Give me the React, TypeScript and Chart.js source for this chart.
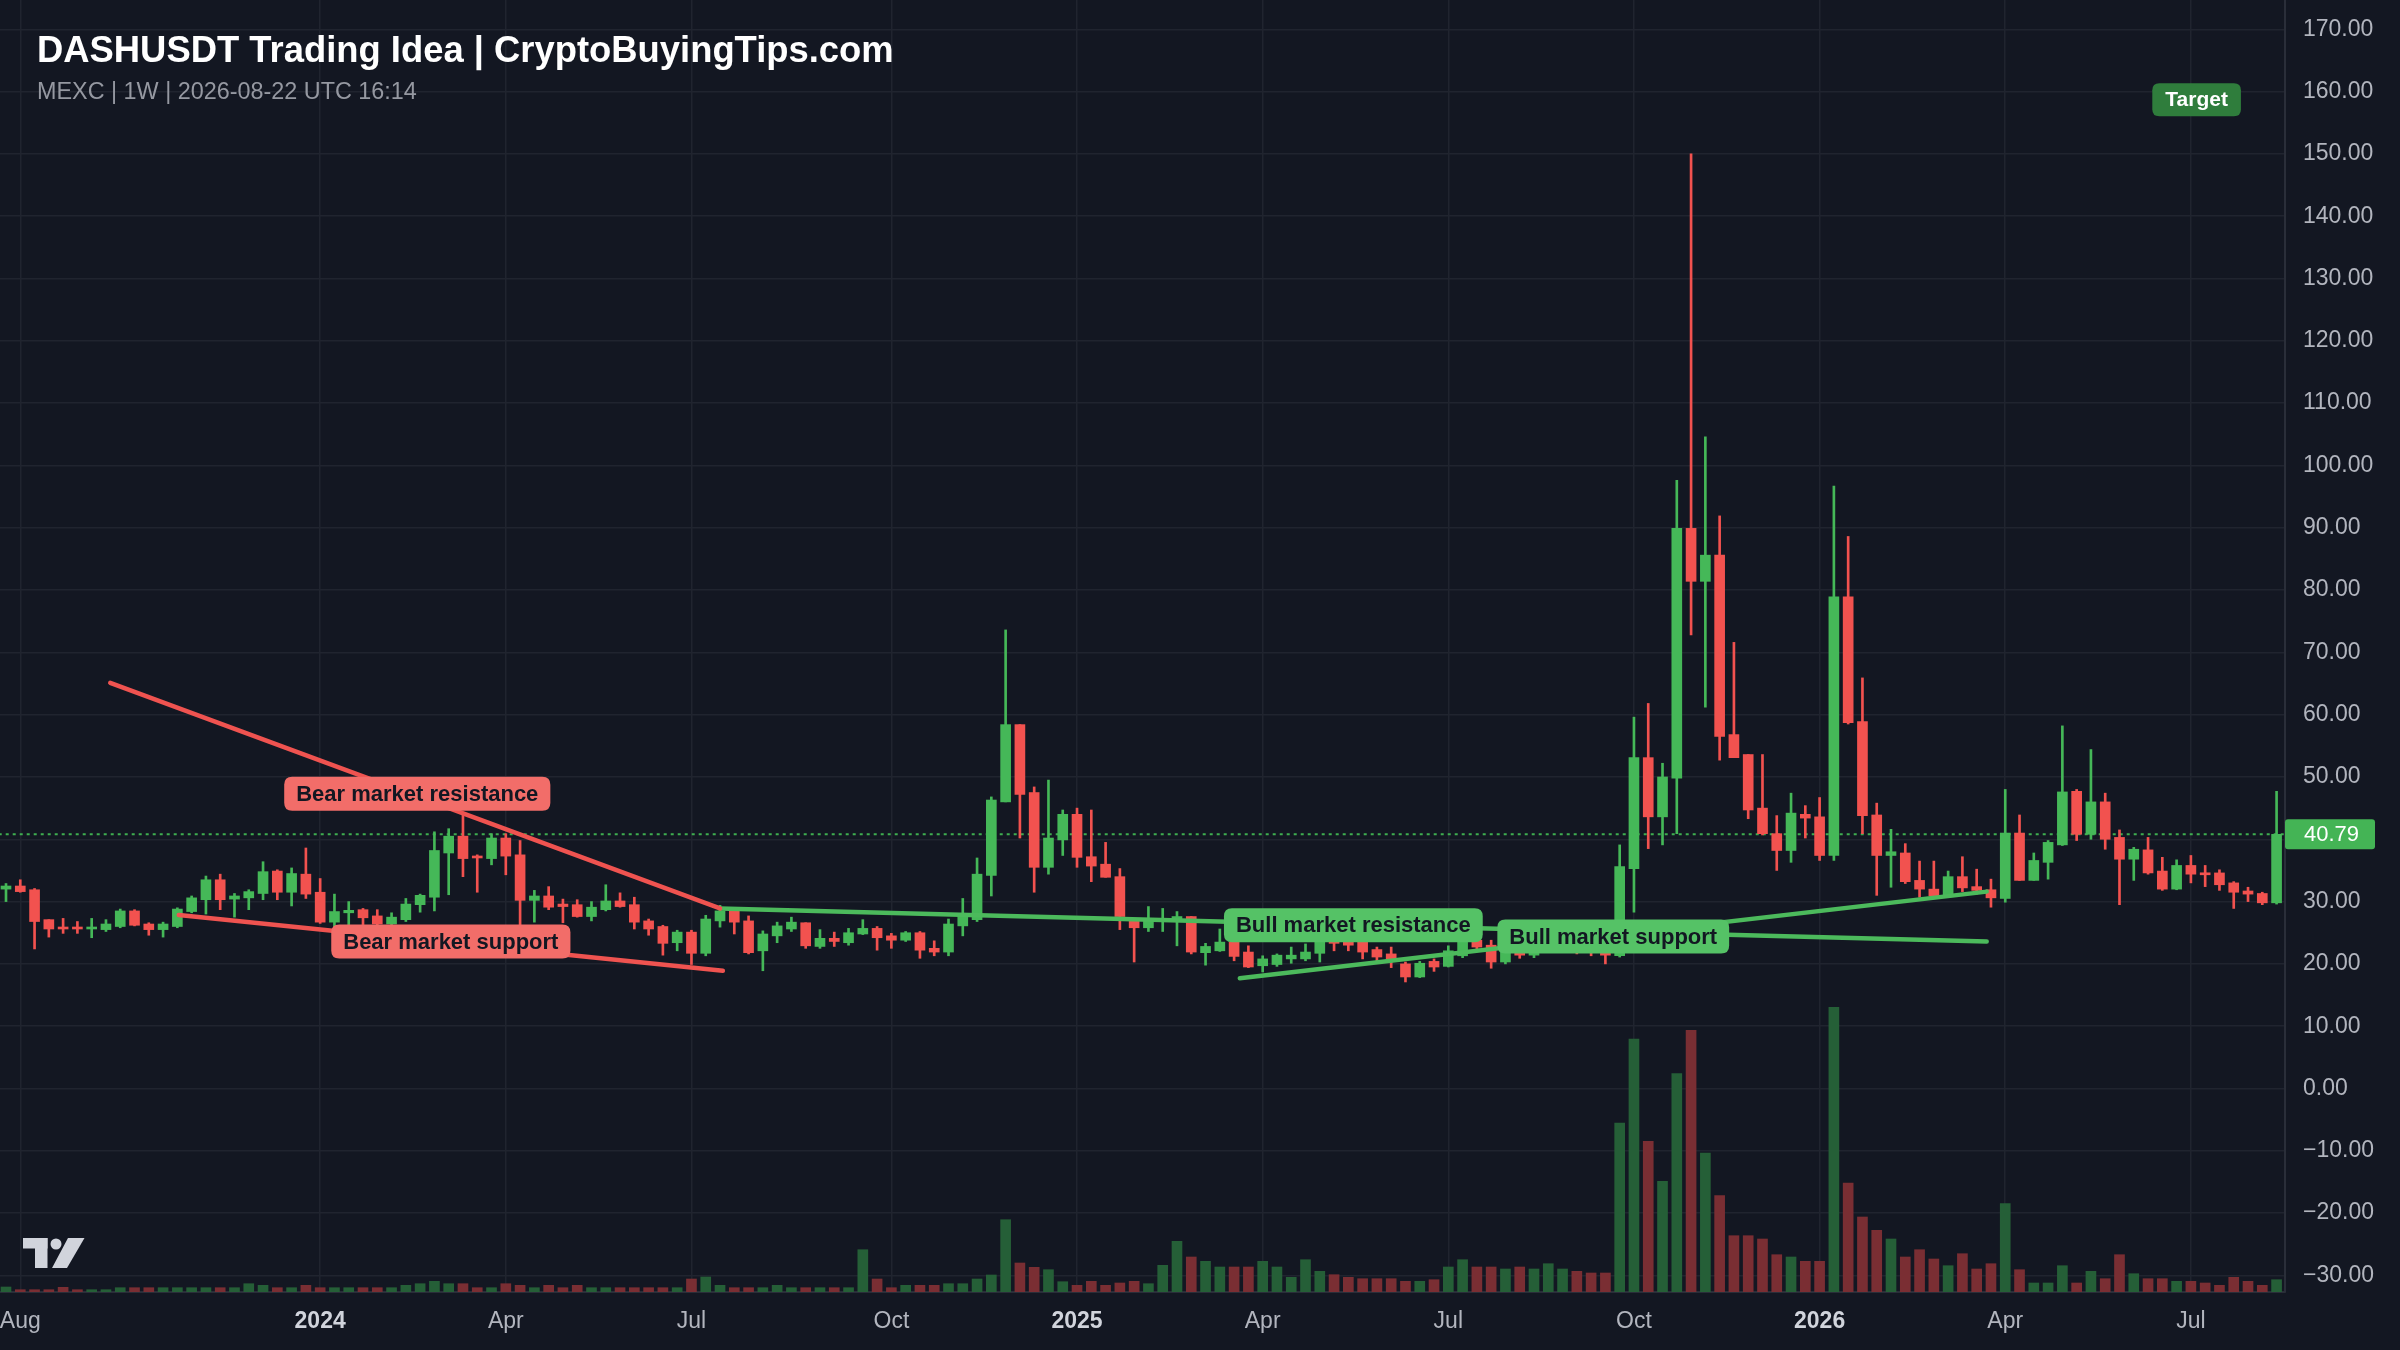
import React, { useEffect, useRef } from 'react';
import { Chart, registerables } from 'chart.js';

Chart.register(...registerables);

// Weekly candles, first bar = week of 2023-07-31
const opens = [
  32.0, 32.5, 31.9, 27.1, 25.8, 25.8, 25.6, 25.5, 26.0, 28.5,
  26.4, 25.5, 26.0, 28.4, 30.3, 33.5, 30.4, 30.6, 31.3, 34.9,
  31.5, 34.4, 31.5, 26.7, 28.2, 28.7, 27.7, 26.4, 27.1, 29.5,
  30.7, 37.8, 40.5, 37.3, 36.9, 40.2, 37.5, 30.2, 30.9, 29.6,
  29.5, 27.6, 28.7, 30.1, 29.5, 26.9, 26.0, 23.4, 25.1, 21.7,
  26.9, 28.5, 26.9, 22.1, 24.5, 25.6, 26.6, 22.8, 24.1, 23.4,
  24.8, 25.7, 24.5, 23.8, 25.0, 22.5, 21.9, 26.1, 27.1, 34.2,
  46.0, 58.4, 47.5, 35.5, 39.9, 44.0, 37.2, 36.0, 34.0, 27.1,
  25.8, 26.9, 26.9, 27.6, 21.8, 22.1, 23.5, 21.9, 19.7, 19.9,
  20.8, 20.8, 21.7, 24.0, 23.6, 23.5, 22.3, 21.6, 20.0, 17.9,
  20.4, 19.6, 21.3, 23.8, 23.0, 20.3, 21.9, 21.4, 22.3, 23.0,
  23.6, 22.4, 22.0, 21.3, 35.3, 53.1, 43.6, 49.8, 89.9, 81.4,
  85.6, 56.8, 53.6, 45.0, 40.9, 38.2, 44.0, 43.6, 37.4, 78.9,
  58.9, 43.9, 37.4, 37.8, 33.4, 32.0, 30.9, 34.0, 32.4, 31.9,
  30.5, 41.0, 33.4, 36.3, 39.1, 47.7, 40.8, 46.0, 40.3, 36.8,
  38.3, 34.9, 32.0, 35.8, 34.6, 34.6, 33.0, 31.7, 31.3, 29.8,
];
const highs = [
  32.9, 33.5, 32.1, 27.1, 27.3, 26.8, 27.3, 27.1, 28.8, 28.7,
  26.6, 26.7, 29.0, 30.9, 34.1, 34.4, 31.3, 31.9, 36.4, 35.1,
  35.4, 38.6, 33.7, 31.2, 30.0, 28.9, 28.7, 28.2, 30.5, 31.2,
  41.2, 41.7, 44.0, 37.5, 40.9, 40.9, 39.8, 31.8, 32.4, 30.4,
  30.3, 30.0, 32.7, 31.4, 30.7, 27.2, 26.2, 25.4, 25.4, 27.8,
  29.4, 28.7, 27.7, 25.3, 26.7, 27.5, 26.6, 25.5, 25.1, 25.7,
  27.1, 26.0, 24.9, 25.2, 25.2, 23.7, 27.2, 30.5, 37.0, 46.8,
  73.6, 58.4, 48.4, 49.5, 44.7, 45.0, 44.7, 39.5, 35.3, 27.1,
  29.2, 28.9, 28.4, 27.6, 23.3, 25.6, 24.0, 22.9, 21.3, 21.6,
  22.7, 23.2, 23.8, 24.5, 24.2, 23.8, 22.7, 22.7, 20.3, 20.4,
  20.8, 22.9, 24.5, 24.1, 23.8, 22.7, 22.4, 22.8, 23.6, 24.0,
  23.9, 23.0, 22.3, 39.1, 59.6, 61.8, 52.2, 97.6, 150.0, 104.6,
  91.9, 71.6, 53.6, 53.6, 43.8, 47.4, 45.4, 46.7, 96.7, 88.6,
  65.9, 45.8, 41.6, 39.3, 36.5, 36.5, 34.9, 37.2, 35.2, 33.6,
  48.0, 43.9, 37.8, 39.8, 58.2, 48.0, 54.4, 47.4, 41.5, 38.7,
  40.3, 37.1, 36.7, 37.4, 35.8, 35.1, 33.2, 32.3, 31.5, 47.7,
];
const lows = [
  30.0, 31.5, 22.4, 24.3, 24.9, 24.9, 24.2, 25.2, 25.8, 26.1,
  24.6, 24.3, 25.8, 28.2, 28.0, 28.7, 27.5, 28.7, 30.3, 30.3,
  29.3, 30.5, 26.5, 25.8, 26.3, 26.3, 26.0, 26.0, 26.8, 28.3,
  28.5, 31.1, 34.0, 31.5, 35.9, 34.3, 26.1, 26.7, 28.7, 26.6,
  27.5, 26.9, 28.5, 29.1, 25.6, 24.6, 21.4, 22.1, 19.9, 21.3,
  25.9, 24.8, 21.6, 18.9, 23.4, 25.2, 22.5, 22.5, 22.8, 23.0,
  24.7, 22.2, 22.5, 23.6, 20.9, 21.3, 21.3, 24.5, 26.8, 30.9,
  46.0, 40.2, 31.5, 34.4, 37.4, 35.5, 33.2, 33.9, 25.5, 20.3,
  25.2, 25.2, 22.9, 21.6, 19.8, 22.0, 20.5, 19.4, 18.7, 19.6,
  20.1, 20.5, 20.3, 22.1, 22.1, 20.8, 20.5, 19.4, 17.1, 17.8,
  18.8, 19.5, 21.0, 22.1, 19.3, 20.0, 20.9, 21.0, 21.9, 22.3,
  21.6, 21.3, 20.0, 21.1, 28.3, 38.5, 39.1, 40.9, 72.8, 61.2,
  52.7, 53.1, 43.3, 40.7, 35.0, 36.3, 40.2, 36.6, 36.6, 58.5,
  40.9, 31.0, 32.3, 32.9, 30.7, 30.7, 30.7, 31.6, 31.2, 29.1,
  29.9, 33.4, 33.4, 33.6, 39.0, 39.8, 40.0, 38.4, 29.5, 33.4,
  34.4, 31.8, 31.9, 33.0, 32.4, 31.8, 28.9, 30.0, 29.5, 29.6,
];
const closes = [
  32.5, 31.6, 26.8, 25.6, 25.6, 25.6, 25.8, 26.4, 28.5, 26.2,
  25.5, 26.4, 28.8, 30.6, 33.5, 30.3, 30.9, 31.6, 34.8, 31.5,
  34.5, 31.2, 26.7, 28.4, 28.6, 27.4, 26.4, 27.5, 29.6, 31.0,
  38.2, 40.5, 36.9, 37.0, 40.2, 37.3, 30.2, 30.9, 29.1, 29.2,
  27.6, 29.1, 30.1, 29.2, 26.7, 25.6, 23.3, 25.1, 21.7, 27.2,
  28.5, 26.7, 21.8, 24.8, 26.1, 26.7, 22.9, 24.1, 23.6, 25.0,
  25.7, 24.2, 23.8, 25.0, 22.2, 21.9, 26.4, 28.0, 34.4, 46.3,
  58.4, 47.2, 35.5, 40.2, 44.0, 37.1, 35.7, 33.9, 27.6, 25.8,
  27.3, 27.3, 27.6, 21.9, 22.8, 23.5, 21.2, 19.5, 20.8, 21.4,
  21.4, 21.9, 23.5, 23.3, 23.0, 21.9, 21.1, 20.7, 17.9, 20.1,
  19.5, 22.1, 23.5, 22.7, 20.3, 21.9, 21.4, 22.4, 23.1, 23.6,
  22.4, 22.0, 21.4, 35.6, 53.1, 43.6, 50.0, 89.9, 81.4, 85.6,
  56.5, 53.1, 44.7, 40.9, 38.2, 44.2, 43.4, 37.4, 78.9, 58.7,
  43.8, 37.4, 38.0, 33.2, 32.0, 30.9, 34.0, 32.2, 31.8, 30.6,
  41.0, 33.4, 36.6, 39.5, 47.6, 40.8, 46.0, 40.0, 36.8, 38.4,
  34.6, 32.0, 35.8, 34.4, 34.3, 32.7, 31.5, 31.2, 29.8, 40.79,
];
// Volume (thousands)
const volumes = [
  50, 23, 23, 23, 47, 23, 23, 23, 43, 43,
  43, 43, 43, 43, 43, 43, 43, 83, 67, 43,
  43, 67, 43, 43, 43, 43, 43, 43, 67, 83,
  107, 83, 83, 43, 43, 83, 67, 43, 67, 43,
  67, 43, 43, 43, 43, 43, 43, 43, 130, 150,
  67, 43, 43, 43, 67, 43, 43, 43, 43, 43,
  423, 130, 43, 67, 67, 67, 83, 83, 130, 170,
  723, 290, 247, 223, 103, 67, 107, 67, 90, 107,
  83, 267, 507, 350, 307, 250, 250, 250, 307, 250,
  147, 323, 207, 173, 147, 133, 133, 133, 107, 107,
  123, 250, 323, 250, 250, 230, 250, 230, 283, 230,
  207, 190, 190, 1690, 2530, 1507, 1107, 2183, 2617, 1390,
  963, 563, 563, 530, 373, 350, 307, 307, 2847, 1090,
  750, 617, 530, 350, 423, 330, 263, 383, 230, 283,
  883, 223, 90, 90, 263, 90, 207, 133, 373, 183,
  133, 133, 107, 107, 90, 67, 147, 107, 67, 123,
];

const xTickWeeks = [1, 22, 35, 48, 62, 75, 88, 101, 114, 127, 140, 153];
const xTickLabels = ['Aug', '2024', 'Apr', 'Jul', 'Oct', '2025', 'Apr', 'Jul', 'Oct', '2026', 'Apr', 'Jul'];
const yTickValues = [-30, -20, -10, 0, 10, 20, 30, 40, 50, 60, 70, 80, 90, 100, 110, 120, 130, 140, 150, 160, 170];

// Trend lines: [week index, price]
const bearResistance = [{ x: 7.3, y: 65.1 }, { x: 50.0, y: 28.9 }];
const bearSupport = [{ x: 12.1, y: 27.85 }, { x: 50.2, y: 18.9 }];
const bullResistance = [{ x: 50.0, y: 28.9 }, { x: 138.7, y: 23.6 }];
const bullSupport = [{ x: 86.4, y: 17.7 }, { x: 138.7, y: 31.6 }];

const lineLabels = [
  { text: 'Bear market resistance', x: 28.8, y: 47.3, kind: 'bear' },
  { text: 'Bear market support', x: 31.15, y: 23.6, kind: 'bear' },
  { text: 'Bull market resistance', x: 94.35, y: 26.2, kind: 'bull' },
  { text: 'Bull market support', x: 112.55, y: 24.4, kind: 'bull' },
];
const targetLabel = { text: 'Target', x: 153.4, y: 158.7 };

const TITLE = 'DASHUSDT Trading Idea | CryptoBuyingTips.com';
const SUBTITLE = 'MEXC | 1W | 2026-08-22 UTC 16:14';

const FONT = '"Liberation Sans", Arial, Helvetica, sans-serif';
const BG = '#131722';
const UP = '#45b858';
const DOWN = '#f2524f';
const UP_VOL = '#255f37';
const DOWN_VOL = '#7a2e33';
const GRID = '#20242f';

function roundRect(ctx: CanvasRenderingContext2D, x: number, y: number, w: number, h: number, r: number) {
  ctx.beginPath();
  ctx.moveTo(x + r, y);
  ctx.lineTo(x + w - r, y);
  ctx.quadraticCurveTo(x + w, y, x + w, y + r);
  ctx.lineTo(x + w, y + h - r);
  ctx.quadraticCurveTo(x + w, y + h, x + w - r, y + h);
  ctx.lineTo(x + r, y + h);
  ctx.quadraticCurveTo(x, y + h, x, y + h - r);
  ctx.lineTo(x, y + r);
  ctx.quadraticCurveTo(x, y, x + r, y);
  ctx.closePath();
}

function fitFont(ctx: CanvasRenderingContext2D, text: string, weight: string, width: number) {
  ctx.font = `${weight} 100px ${FONT}`;
  const w = ctx.measureText(text).width;
  return (100 * width) / w;
}

const bgPlugin = {
  id: 'bgPlugin',
  beforeDraw(chart: any) {
    const { ctx } = chart;
    ctx.save();
    ctx.fillStyle = BG;
    ctx.fillRect(0, 0, chart.width, chart.height);
    ctx.restore();
  },
};

const overlayPlugin = {
  id: 'overlayPlugin',
  afterDraw(chart: any) {
    const { ctx, chartArea } = chart;
    const xs = chart.scales.x;
    const ys = chart.scales.y;
    ctx.save();

    // Trend line labels
    ctx.font = `bold 22px ${FONT}`;
    ctx.textAlign = 'center';
    ctx.textBaseline = 'middle';
    for (const l of lineLabels) {
      const cx = xs.getPixelForValue(l.x);
      const cy = ys.getPixelForValue(l.y);
      const w = ctx.measureText(l.text).width + 24;
      const h = 34;
      ctx.fillStyle = l.kind === 'bear' ? '#f26d69' : '#55c266';
      roundRect(ctx, cx - w / 2, cy - h / 2, w, h, 8);
      ctx.fill();
      ctx.fillStyle = '#131722';
      ctx.fillText(l.text, cx, cy + 1);
    }

    // Target label
    {
      ctx.font = `bold 21px ${FONT}`;
      const cx = xs.getPixelForValue(targetLabel.x);
      const cy = ys.getPixelForValue(targetLabel.y);
      const w = ctx.measureText(targetLabel.text).width + 26;
      const h = 33;
      ctx.fillStyle = '#2f7d3c';
      roundRect(ctx, cx - w / 2, cy - h / 2, w, h, 7);
      ctx.fill();
      ctx.fillStyle = '#ffffff';
      ctx.fillText(targetLabel.text, cx, cy + 1);
    }

    // Last price label on the axis
    {
      const last = closes[closes.length - 1];
      const py = ys.getPixelForValue(last);
      const x0 = chartArea.right;
      ctx.fillStyle = '#44b455';
      roundRect(ctx, x0, py - 15, 90, 30, 3);
      ctx.fill();
      ctx.fillStyle = '#ffffff';
      ctx.font = `22px ${FONT}`;
      ctx.textAlign = 'left';
      ctx.fillText(last.toFixed(2), x0 + 19, py + 1);
    }

    // Title and subtitle
    ctx.textAlign = 'left';
    ctx.textBaseline = 'alphabetic';
    const ts = fitFont(ctx, TITLE, 'bold', 857);
    ctx.font = `bold ${ts}px ${FONT}`;
    ctx.fillStyle = '#ffffff';
    ctx.fillText(TITLE, 37, 62);
    const ss = fitFont(ctx, SUBTITLE, 'normal', 380);
    ctx.font = `normal ${ss}px ${FONT}`;
    ctx.fillStyle = '#9598a1';
    ctx.fillText(SUBTITLE, 37, 99);

    // TradingView watermark logo
    ctx.fillStyle = '#d1d4dc';
    ctx.fillRect(23, 1238, 24.5, 10.5);
    ctx.fillRect(35, 1238, 12.5, 30);
    ctx.beginPath();
    ctx.arc(56, 1244, 5.5, 0, Math.PI * 2);
    ctx.fill();
    ctx.beginPath();
    ctx.moveTo(68, 1238);
    ctx.lineTo(84.5, 1238);
    ctx.lineTo(67, 1268);
    ctx.lineTo(52, 1268);
    ctx.closePath();
    ctx.fill();

    ctx.restore();
  },
};

export default function App() {
  const ref = useRef<HTMLCanvasElement | null>(null);

  useEffect(() => {
    document.body.style.margin = '0';
    document.body.style.background = BG;
    const canvas = ref.current;
    if (!canvas) return;
    const idx = opens.map((_, i) => i);
    const isUp = idx.map((i) => closes[i] >= opens[i]);
    const lastPrice = closes[closes.length - 1];

    const lineDs = (data: any[], color: string) => ({
      type: 'line' as const,
      data,
      borderColor: color,
      borderWidth: 4.5,
      borderCapStyle: 'round' as const,
      pointRadius: 0,
      fill: false,
      tension: 0,
      xAxisID: 'x',
      yAxisID: 'y',
      order: 0,
    });

    const chart = new Chart(canvas, {
      type: 'bar',
      data: {
        datasets: [
          lineDs(bearResistance, '#ef5350'),
          lineDs(bearSupport, '#ef5350'),
          lineDs(bullResistance, '#4cba5c'),
          lineDs(bullSupport, '#4cba5c'),
          {
            type: 'bar',
            data: idx.map((i) => ({ x: i, y: [opens[i], closes[i]] })),
            backgroundColor: isUp.map((u) => (u ? UP : DOWN)),
            barThickness: 10,
            minBarLength: 2,
            grouped: false,
            borderWidth: 0,
            xAxisID: 'x',
            yAxisID: 'y',
            order: 1,
          } as any,
          {
            type: 'bar',
            data: idx.map((i) => ({ x: i, y: [lows[i], highs[i]] })),
            backgroundColor: isUp.map((u) => (u ? UP : DOWN)),
            barThickness: 2,
            grouped: false,
            borderWidth: 0,
            xAxisID: 'x',
            yAxisID: 'y',
            order: 2,
          } as any,
          {
            type: 'line',
            data: [
              { x: -1, y: lastPrice },
              { x: idx.length + 1, y: lastPrice },
            ],
            borderColor: '#3fae50',
            borderWidth: 2,
            borderDash: [3, 4],
            pointRadius: 0,
            fill: false,
            xAxisID: 'x',
            yAxisID: 'y',
            order: 3,
          } as any,
          {
            type: 'bar',
            data: idx.map((i) => ({ x: i, y: volumes[i] })),
            backgroundColor: isUp.map((u) => (u ? UP_VOL : DOWN_VOL)),
            barThickness: 10,
            grouped: false,
            borderWidth: 0,
            xAxisID: 'x',
            yAxisID: 'vol',
            order: 4,
          } as any,
        ],
      },
      options: {
        responsive: false,
        animation: false,
        devicePixelRatio: 1,
        events: [],
        layout: { padding: 0 },
        plugins: {
          legend: { display: false },
          tooltip: { enabled: false },
          title: { display: false },
        },
        scales: {
          x: {
            type: 'linear',
            min: -0.42,
            max: 159.59,
            offset: false,
            bounds: 'data',
            grid: { color: GRID, lineWidth: 1.5, drawTicks: false, offset: false },
            border: { color: '#2a2e39', width: 2 },
            ticks: {
              autoSkip: false,
              maxRotation: 0,
              padding: 16,
              callback: (_v: any, i: number) => xTickLabels[i],
              color: (c: any) => (/^\d{4}$/.test(xTickLabels[c.index] || '') ? '#d1d4dc' : '#b2b5be'),
              font: (c: any) => ({
                family: FONT,
                size: 23,
                weight: /^\d{4}$/.test(xTickLabels[c.index] || '') ? 'bold' : 'normal',
              }),
            },
            afterBuildTicks: (s: any) => {
              s.ticks = xTickWeeks.map((v) => ({ value: v }));
            },
            afterFit: (s: any) => {
              s.height = 58;
              s.paddingLeft = 0;
              s.paddingRight = 0;
            },
          },
          y: {
            type: 'linear',
            position: 'right',
            min: -32.66,
            max: 174.7,
            bounds: 'data',
            grid: { color: GRID, lineWidth: 1.5, drawTicks: false },
            border: { color: '#2a2e39', width: 2 },
            ticks: {
              padding: 18,
              color: '#b2b5be',
              font: { family: FONT, size: 23 },
              callback: (v: any) => (v < 0 ? '\u2212' + Math.abs(v).toFixed(2) : Number(v).toFixed(2)),
            },
            afterBuildTicks: (s: any) => {
              s.ticks = yTickValues.map((v) => ({ value: v }));
            },
            afterFit: (s: any) => {
              s.width = 115;
              s.paddingTop = 0;
              s.paddingBottom = 0;
            },
          },
          vol: {
            type: 'linear',
            display: false,
            min: 0,
            max: 12920,
          },
        },
      } as any,
      plugins: [bgPlugin, overlayPlugin],
    });
    return () => chart.destroy();
  }, []);

  return (
    <div style={{ position: 'fixed', left: 0, top: 0, width: 2400, height: 1350, background: BG }}>
      <canvas ref={ref} width={2400} height={1350} style={{ width: '2400px', height: '1350px', display: 'block' }} />
    </div>
  );
}
